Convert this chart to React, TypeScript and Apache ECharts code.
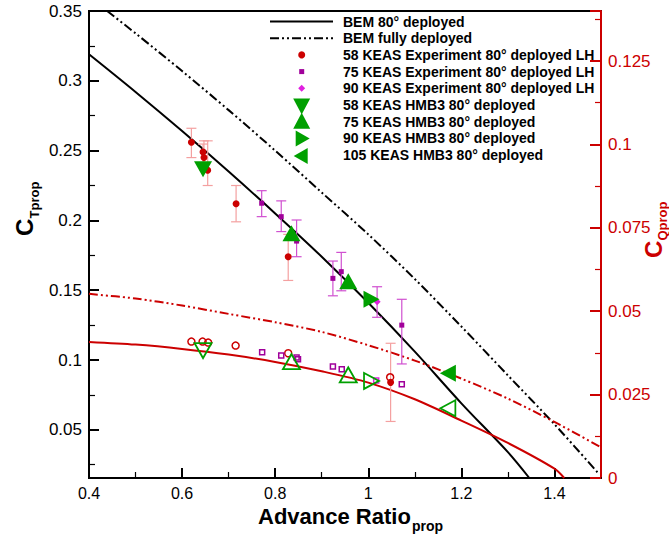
import React, { useEffect, useRef } from 'react';
import * as echarts from 'echarts';

// ---------- axes ----------
const xTickValues = [0.4, 0.6, 0.8, 1.0, 1.2, 1.4];
const xMinorTicks = [0.5, 0.7, 0.9, 1.1, 1.3];
const ctTickValues = [0.05, 0.1, 0.15, 0.2, 0.25, 0.3, 0.35];
const ctMinorTicks = [0.025, 0.075, 0.125, 0.175, 0.225, 0.275, 0.325];
const cqLabelValues = [0, 0.025, 0.05, 0.075, 0.1, 0.125];
const cqTickValues = [0, 0.025, 0.05, 0.075, 0.1, 0.125, 0.14];
const cqMinorTicks = [0.0125, 0.0375, 0.0625, 0.0875, 0.1125, 0.1375];

// ---------- BEM curves ----------
const bem80J = [0.4, 0.5, 0.6, 0.7, 0.8, 0.9, 1.0, 1.1, 1.2, 1.3, 1.346];
const bem80CT = [0.319, 0.292, 0.264, 0.235, 0.205, 0.174, 0.141, 0.106, 0.069, 0.034, 0.0155];
const bemFullJ = [0.439, 0.5, 0.6, 0.7, 0.8, 0.9, 1.0, 1.1, 1.2, 1.3, 1.4, 1.494];
const bemFullCT = [0.35, 0.334, 0.307, 0.279, 0.25, 0.22, 0.19, 0.158, 0.124, 0.089, 0.054, 0.019];
const bem80CQJ = [0.4, 0.5, 0.6, 0.7, 0.8, 0.9, 1.0, 1.1, 1.2, 1.3, 1.4, 1.421];
const bem80CQ = [0.0408, 0.04, 0.0387, 0.037, 0.0348, 0.032, 0.0286, 0.0236, 0.0172, 0.0105, 0.0028, 0.0];
const bemFullCQJ = [0.4, 0.5, 0.6, 0.7, 0.8, 0.9, 1.0, 1.1, 1.2, 1.3, 1.4, 1.5];
const bemFullCQ = [0.0552, 0.0538, 0.0517, 0.0492, 0.0467, 0.0438, 0.0398, 0.0352, 0.0298, 0.0238, 0.0168, 0.0092];

// ---------- experiments ----------
const exp58J = [0.62, 0.645, 0.647, 0.655, 0.716, 0.828, 1.048];
const exp58CT = [0.256, 0.249, 0.245, 0.236, 0.212, 0.174, 0.084];
const exp58Lo = [0.245, 0.238, 0.236, 0.225, 0.199, 0.157, 0.056];
const exp58Hi = [0.266, 0.2547, 0.257, 0.257, 0.225, 0.19, 0.112];
const exp58CQJ = [0.62, 0.644, 0.656, 0.715, 0.828, 1.047];
const exp58CQ = [0.0409, 0.0409, 0.0406, 0.0397, 0.0374, 0.0302];

const exp75J = [0.771, 0.813, 0.846, 0.924, 0.942, 1.072];
const exp75CT = [0.2123, 0.2027, 0.1852, 0.1585, 0.1633, 0.125];
const exp75Lo = [0.2027, 0.192, 0.174, 0.146, 0.1496, 0.0972];
const exp75Hi = [0.2213, 0.214, 0.2003, 0.1709, 0.1771, 0.1435];
const exp75CQJ = [0.772, 0.813, 0.846, 0.849, 0.924, 0.943, 1.072];
const exp75CQ = [0.0377, 0.0367, 0.0361, 0.0356, 0.0334, 0.0326, 0.0281];

const exp90J = [1.019];
const exp90CT = [0.1418];
const exp90Lo = [0.1306];
const exp90Hi = [0.1525];
const exp90CQJ = [1.017];
const exp90CQ = [0.0292];

// ---------- HMB3 ----------
const h58J = [0.645];
const h58CT = [0.2366];
const h58CQ = [0.0382];
const h75J = [0.835, 0.957];
const h75CT = [0.1908, 0.1565];
const h75CQ = [0.0349, 0.0309];
const h90J = [1.007];
const h90CT = [0.1435];
const h90CQ = [0.0291];
const h105J = [1.171];
const h105CT = [0.0905];
const h105CQ = [0.0209];

const legendLabels = [
  'BEM 80° deployed',
  'BEM fully deployed',
  '58 KEAS Experiment 80° deployed LH',
  '75 KEAS Experiment 80° deployed LH',
  '90 KEAS Experiment 80° deployed LH',
  '58 KEAS HMB3 80° deployed',
  '75 KEAS HMB3 80° deployed',
  '90 KEAS HMB3 80° deployed',
  '105 KEAS HMB3 80° deployed',
];

const FONT = '"Liberation Sans", Arial, Helvetica, sans-serif';
const RED = '#cc0000';
const BLACK = '#000000';
const GREEN = '#00a000';
const PURPLE = '#a0009a';
const MAGENTA = '#e020e0';
const PINK = '#f4a0a0';
const ERRMAG = '#d050d0';
const DASHDOT = [9, 3, 2, 3, 2, 3];

const pairs = (xs: number[], ys: number[]) => xs.map((x, i) => [x, ys[i]]);
const triples = (xs: number[], lo: number[], hi: number[]) => xs.map((x, i) => [x, lo[i], hi[i]]);

function errorBars(name: string, data: number[][], color: string) {
  return {
    name,
    type: 'custom',
    xAxisIndex: 0,
    yAxisIndex: 0,
    z: 2,
    silent: true,
    data,
    encode: { x: 0, y: [1, 2] },
    renderItem: (params: any, api: any) => {
      const x = api.value(0);
      const lo = api.value(1);
      const hi = api.value(2);
      const p1 = api.coord([x, hi]);
      const p2 = api.coord([x, lo]);
      const w = 5;
      const style = { stroke: color, lineWidth: 1.2 };
      return {
        type: 'group',
        children: [
          { type: 'line', shape: { x1: p1[0], y1: p1[1], x2: p2[0], y2: p2[1] }, style },
          { type: 'line', shape: { x1: p1[0] - w, y1: p1[1], x2: p1[0] + w, y2: p1[1] }, style },
          { type: 'line', shape: { x1: p2[0] - w, y1: p2[1], x2: p2[0] + w, y2: p2[1] }, style },
        ],
      };
    },
  };
}

function lineSeries(name: string, data: number[][], color: string, yAxisIndex: number, dash: any) {
  return {
    name,
    type: 'line',
    xAxisIndex: 0,
    yAxisIndex,
    data,
    smooth: 0.3,
    symbol: 'none',
    z: 1,
    lineStyle: { color, width: 2, type: dash, cap: 'butt' },
  };
}

function scatter(name: string, data: number[][], yAxisIndex: number, symbol: string, size: any, rotate: number, fill: string, stroke: string, bw: number, z: number) {
  return {
    name,
    type: 'scatter',
    xAxisIndex: 0,
    yAxisIndex,
    data,
    symbol,
    symbolSize: size,
    symbolRotate: rotate,
    z,
    itemStyle: { color: fill, borderColor: stroke, borderWidth: bw, opacity: 1 },
  };
}

function tri(cx: number, cy: number, dir: string, w: number, h: number) {
  if (dir === 'up') return [[cx, cy - h / 2], [cx + w / 2, cy + h / 2], [cx - w / 2, cy + h / 2]];
  if (dir === 'down') return [[cx - w / 2, cy - h / 2], [cx + w / 2, cy - h / 2], [cx, cy + h / 2]];
  if (dir === 'right') return [[cx - h / 2, cy - w / 2], [cx + h / 2, cy], [cx - h / 2, cy + w / 2]];
  return [[cx + h / 2, cy - w / 2], [cx - h / 2, cy], [cx + h / 2, cy + w / 2]];
}

function buildLegend() {
  const els: any[] = [];
  const rowY = (i: number) => 21.5 + i * 16.7;
  const mx = 301.7;
  els.push({ type: 'line', shape: { x1: 270, y1: rowY(0), x2: 333, y2: rowY(0) }, style: { stroke: BLACK, lineWidth: 2 } });
  els.push({ type: 'line', shape: { x1: 270, y1: rowY(1), x2: 333, y2: rowY(1) }, style: { stroke: BLACK, lineWidth: 2, lineDash: DASHDOT } });
  els.push({ type: 'circle', shape: { cx: mx, cy: rowY(2), r: 3.5 }, style: { fill: RED } });
  els.push({ type: 'rect', shape: { x: mx - 2.5, y: rowY(3) - 2.5, width: 5, height: 5 }, style: { fill: PURPLE } });
  els.push({ type: 'polygon', shape: { points: [[mx, rowY(4) - 3.5], [mx + 3.5, rowY(4)], [mx, rowY(4) + 3.5], [mx - 3.5, rowY(4)]] }, style: { fill: MAGENTA } });
  els.push({ type: 'polygon', shape: { points: tri(mx, rowY(5) + 1.5, 'down', 17, 16) }, style: { fill: GREEN } });
  els.push({ type: 'polygon', shape: { points: tri(mx, rowY(6) - 1, 'up', 17, 16) }, style: { fill: GREEN } });
  els.push({ type: 'polygon', shape: { points: tri(mx + 1, rowY(7), 'right', 16, 14) }, style: { fill: GREEN } });
  els.push({ type: 'polygon', shape: { points: tri(mx - 1, rowY(8) + 1, 'left', 16, 14) }, style: { fill: GREEN } });
  legendLabels.forEach((t, i) => {
    els.push({
      type: 'text',
      style: { text: t, x: 343, y: rowY(i), fill: BLACK, font: `bold 14px ${FONT}`, verticalAlign: 'middle', align: 'left' },
    });
  });
  return els;
}

function buildTitles() {
  return [
    { type: 'text', style: { text: 'Advance Ratio', x: 258, y: 516, fill: BLACK, font: `bold 22px ${FONT}`, verticalAlign: 'middle' } },
    { type: 'text', style: { text: 'prop', x: 412, y: 526, fill: BLACK, font: `bold 14px ${FONT}`, verticalAlign: 'middle' } },
    {
      type: 'group', x: 24, y: 236, rotation: Math.PI / 2,
      children: [
        { type: 'text', style: { text: 'C', x: 0, y: 0, fill: BLACK, font: `bold 24px ${FONT}`, verticalAlign: 'middle' } },
        { type: 'text', style: { text: 'Tprop', x: 17.5, y: 10, fill: BLACK, font: `bold 13px ${FONT}`, verticalAlign: 'middle' } },
      ],
    },
    {
      type: 'group', x: 653, y: 258, rotation: Math.PI / 2,
      children: [
        { type: 'text', style: { text: 'C', x: 0, y: 0, fill: RED, font: `bold 24px ${FONT}`, verticalAlign: 'middle' } },
        { type: 'text', style: { text: 'Qprop', x: 17.5, y: 9, fill: RED, font: `bold 13px ${FONT}`, verticalAlign: 'middle' } },
      ],
    },
  ];
}

const axisBase = { type: 'value', splitLine: { show: false } };

export default function App() {
  const ref = useRef<HTMLDivElement>(null);
  useEffect(() => {
    if (!ref.current) return;
    const chart = echarts.init(ref.current, null, { renderer: 'svg' });
    const option: any = {
      animation: false,
      backgroundColor: '#ffffff',
      grid: { left: 89, right: 68, top: 11, bottom: 57, show: true, borderColor: BLACK, borderWidth: 2, backgroundColor: 'transparent' },
      xAxis: [
        {
          ...axisBase, min: 0.4, max: 1.5, position: 'bottom',
          axisLine: { show: true, onZero: false, lineStyle: { color: BLACK, width: 2 } },
          axisTick: { show: true, inside: true, length: 10, customValues: xTickValues, lineStyle: { color: BLACK, width: 2 } },
          axisLabel: { show: true, customValues: xTickValues, color: BLACK, fontSize: 16, fontFamily: FONT, margin: 7 },
        },
        {
          ...axisBase, min: 0.4, max: 1.5, position: 'bottom',
          axisLine: { show: false, onZero: false },
          axisTick: { show: true, inside: true, length: 6, customValues: xMinorTicks, lineStyle: { color: BLACK, width: 1.2 } },
          axisLabel: { show: false },
        },
      ],
      yAxis: [
        {
          ...axisBase, min: 0.0155, max: 0.35, position: 'left',
          axisLine: { show: true, onZero: false, lineStyle: { color: BLACK, width: 2 } },
          axisTick: { show: true, inside: true, length: 10, customValues: ctTickValues, lineStyle: { color: BLACK, width: 2 } },
          axisLabel: { show: true, customValues: ctTickValues, color: BLACK, fontSize: 17, fontFamily: FONT, margin: 7 },
        },
        {
          ...axisBase, min: 0, max: 0.14, position: 'right',
          axisLine: { show: true, onZero: false, lineStyle: { color: RED, width: 2 } },
          axisTick: { show: true, inside: true, length: 11, customValues: cqTickValues, lineStyle: { color: RED, width: 2 } },
          axisLabel: { show: true, customValues: cqLabelValues, color: RED, fontSize: 17, fontFamily: FONT, margin: 7 },
        },
        {
          ...axisBase, min: 0.0155, max: 0.35, position: 'left',
          axisLine: { show: false, onZero: false },
          axisTick: { show: true, inside: true, length: 6, customValues: ctMinorTicks, lineStyle: { color: BLACK, width: 1.2 } },
          axisLabel: { show: false },
        },
        {
          ...axisBase, min: 0, max: 0.14, position: 'right',
          axisLine: { show: false, onZero: false },
          axisTick: { show: true, inside: true, length: 6, customValues: cqMinorTicks, lineStyle: { color: RED, width: 1.2 } },
          axisLabel: { show: false },
        },
      ],
      graphic: [...buildLegend(), ...buildTitles()],
      series: [
        lineSeries('BEM 80° deployed', pairs(bem80J, bem80CT), BLACK, 0, 'solid'),
        lineSeries('BEM fully deployed', pairs(bemFullJ, bemFullCT), BLACK, 0, DASHDOT),
        lineSeries('BEM 80° deployed CQ', pairs(bem80CQJ, bem80CQ), RED, 1, 'solid'),
        lineSeries('BEM fully deployed CQ', pairs(bemFullCQJ, bemFullCQ), RED, 1, DASHDOT),
        errorBars('58 KEAS error', triples(exp58J, exp58Lo, exp58Hi), PINK),
        errorBars('75 KEAS error', triples(exp75J, exp75Lo, exp75Hi), ERRMAG),
        errorBars('90 KEAS error', triples(exp90J, exp90Lo, exp90Hi), ERRMAG),
        scatter('58 KEAS Experiment 80° deployed LH', pairs(exp58J, exp58CT), 0, 'circle', 7, 0, RED, RED, 0, 3),
        scatter('75 KEAS Experiment 80° deployed LH', pairs(exp75J, exp75CT), 0, 'rect', 5, 0, PURPLE, PURPLE, 0, 3),
        scatter('90 KEAS Experiment 80° deployed LH', pairs(exp90J, exp90CT), 0, 'diamond', 7, 0, MAGENTA, MAGENTA, 0, 3),
        scatter('58 KEAS Experiment CQ', pairs(exp58CQJ, exp58CQ), 1, 'circle', 7, 0, 'rgba(0,0,0,0)', RED, 1.5, 3),
        scatter('75 KEAS Experiment CQ', pairs(exp75CQJ, exp75CQ), 1, 'rect', 5, 0, 'rgba(0,0,0,0)', PURPLE, 1.5, 3),
        scatter('90 KEAS Experiment CQ', pairs(exp90CQJ, exp90CQ), 1, 'rect', 5, 0, 'rgba(0,0,0,0)', MAGENTA, 1.5, 3),
        scatter('58 KEAS HMB3 80° deployed', pairs(h58J, h58CT), 0, 'triangle', [18, 16], 180, GREEN, GREEN, 0, 4),
        scatter('75 KEAS HMB3 80° deployed', pairs(h75J, h75CT), 0, 'triangle', [18, 16], 0, GREEN, GREEN, 0, 4),
        scatter('90 KEAS HMB3 80° deployed', pairs(h90J, h90CT), 0, 'triangle', [17, 16], -90, GREEN, GREEN, 0, 4),
        scatter('105 KEAS HMB3 80° deployed', pairs(h105J, h105CT), 0, 'triangle', [17, 16], 90, GREEN, GREEN, 0, 4),
        scatter('58 KEAS HMB3 CQ', pairs(h58J, h58CQ), 1, 'triangle', [17, 15], 180, 'rgba(0,0,0,0)', GREEN, 1.8, 4),
        scatter('75 KEAS HMB3 CQ', pairs(h75J, h75CQ), 1, 'triangle', [17, 15], 0, 'rgba(0,0,0,0)', GREEN, 1.8, 4),
        scatter('90 KEAS HMB3 CQ', pairs(h90J, h90CQ), 1, 'triangle', [16, 15], -90, 'rgba(0,0,0,0)', GREEN, 1.8, 4),
        scatter('105 KEAS HMB3 CQ', pairs(h105J, h105CQ), 1, 'triangle', [16, 15], 90, 'rgba(0,0,0,0)', GREEN, 1.8, 4),
      ],
    };
    chart.setOption(option);
    return () => chart.dispose();
  }, []);
  return <div ref={ref} style={{ position: 'fixed', left: 0, top: 0, width: 669, height: 535, background: '#fff' }} />;
}
